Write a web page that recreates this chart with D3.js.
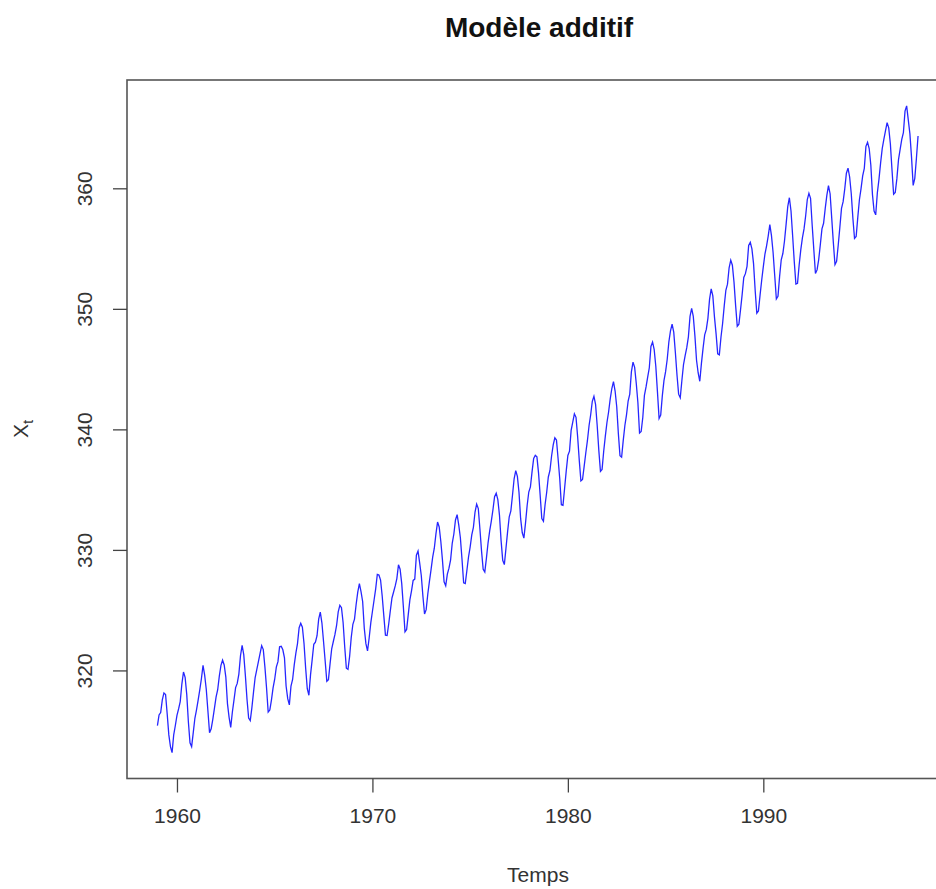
<!DOCTYPE html>
<html>
<head>
<meta charset="utf-8">
<script src="https://cdn.jsdelivr.net/npm/d3@7"></script>
<style>
  html, body { margin: 0; padding: 0; background: #fff; }
  svg { display: block; }
  text { font-family: "Liberation Sans", Arial, sans-serif; }
</style>
</head>
<body>
<svg id="chart" width="936" height="889"></svg>
<script>
// ---- data (monthly series, start 1959, 12 obs / year) ----
const title = "Modèle additif";
const xLabel = "Temps";
const startYear = 1959;
const frequency = 12;
const values = [
  315.42, 316.31, 316.50, 317.56, 318.13, 318.00, 316.39, 314.65, 313.68, 313.18, 314.66, 315.43,
  316.27, 316.81, 317.42, 318.87, 319.87, 319.43, 318.01, 315.74, 314.00, 313.68, 314.84, 316.03,
  316.73, 317.54, 318.38, 319.31, 320.42, 319.61, 318.42, 316.63, 314.83, 315.16, 315.94, 316.85,
  317.78, 318.40, 319.53, 320.42, 320.85, 320.45, 319.45, 317.25, 316.11, 315.27, 316.53, 317.53,
  318.58, 318.92, 319.70, 321.22, 322.08, 321.31, 319.58, 317.61, 316.05, 315.83, 316.91, 318.20,
  319.41, 320.07, 320.74, 321.40, 322.06, 321.73, 320.27, 318.54, 316.54, 316.71, 317.53, 318.55,
  319.27, 320.28, 320.73, 321.97, 322.00, 321.71, 321.05, 318.71, 317.66, 317.14, 318.70, 319.25,
  320.46, 321.43, 322.23, 323.54, 323.91, 323.59, 322.24, 320.20, 318.48, 317.94, 319.63, 320.87,
  322.17, 322.34, 322.88, 324.25, 324.83, 323.93, 322.38, 320.76, 319.10, 319.24, 320.56, 321.80,
  322.40, 322.99, 323.73, 324.86, 325.40, 325.20, 323.98, 321.95, 320.18, 320.09, 321.16, 322.74,
  323.83, 324.26, 325.47, 326.50, 327.21, 326.54, 325.72, 323.50, 322.22, 321.62, 322.69, 323.95,
  324.89, 325.82, 326.77, 327.97, 327.91, 327.50, 326.18, 324.53, 322.93, 322.90, 323.85, 324.96,
  326.01, 326.51, 327.01, 327.62, 328.76, 328.40, 327.20, 325.27, 323.20, 323.40, 324.63, 325.85,
  326.60, 327.47, 327.58, 329.56, 329.90, 328.92, 327.88, 326.16, 324.68, 325.04, 326.34, 327.39,
  328.37, 329.40, 330.14, 331.33, 332.31, 331.90, 330.70, 329.15, 327.35, 327.02, 327.99, 328.48,
  329.18, 330.55, 331.32, 332.48, 332.92, 332.08, 331.01, 329.23, 327.27, 327.21, 328.29, 329.41,
  330.23, 331.25, 331.87, 333.14, 333.80, 333.43, 331.73, 329.90, 328.40, 328.17, 329.32, 330.59,
  331.58, 332.39, 333.33, 334.41, 334.71, 334.17, 332.89, 330.77, 329.14, 328.78, 330.14, 331.52,
  332.75, 333.24, 334.53, 335.90, 336.57, 336.10, 334.76, 332.59, 331.42, 330.98, 332.24, 333.68,
  334.80, 335.22, 336.47, 337.59, 337.84, 337.72, 336.37, 334.51, 332.60, 332.38, 333.75, 334.78,
  336.05, 336.59, 337.79, 338.71, 339.30, 339.12, 337.56, 335.92, 333.75, 333.70, 335.12, 336.56,
  337.84, 338.19, 339.91, 340.60, 341.29, 341.00, 339.39, 337.43, 335.72, 335.84, 336.93, 338.04,
  339.06, 340.30, 341.21, 342.33, 342.74, 342.08, 340.32, 338.26, 336.52, 336.68, 338.19, 339.44,
  340.57, 341.44, 342.53, 343.39, 343.96, 343.18, 341.88, 339.65, 337.81, 337.69, 339.09, 340.32,
  341.20, 342.35, 342.93, 344.77, 345.58, 345.14, 343.81, 342.21, 339.69, 339.82, 340.98, 342.82,
  343.52, 344.33, 345.11, 346.88, 347.25, 346.62, 345.22, 343.11, 340.90, 341.18, 342.80, 344.04,
  344.79, 345.82, 347.25, 348.17, 348.74, 348.07, 346.38, 344.51, 342.92, 342.62, 344.06, 345.38,
  346.11, 346.78, 347.68, 349.37, 350.03, 349.37, 347.76, 345.73, 344.68, 343.99, 345.48, 346.72,
  347.84, 348.29, 349.23, 350.80, 351.66, 351.07, 349.33, 347.92, 346.27, 346.18, 347.64, 348.78,
  350.25, 351.54, 352.05, 353.41, 354.04, 353.62, 352.22, 350.27, 348.55, 348.72, 349.91, 351.18,
  352.60, 352.92, 353.53, 355.26, 355.52, 354.97, 353.75, 351.52, 349.64, 349.83, 351.14, 352.37,
  353.50, 354.55, 355.23, 356.04, 357.00, 356.07, 354.67, 352.76, 350.82, 351.04, 352.69, 354.07,
  354.59, 355.63, 357.03, 358.48, 359.22, 358.12, 356.06, 353.92, 352.05, 352.11, 353.64, 354.89,
  355.88, 356.63, 357.72, 359.07, 359.58, 359.17, 356.94, 354.92, 352.94, 353.23, 354.09, 355.33,
  356.63, 357.10, 358.32, 359.41, 360.23, 359.55, 357.53, 355.48, 353.67, 353.95, 355.30, 356.78,
  358.34, 358.89, 359.95, 361.25, 361.67, 360.94, 359.55, 357.49, 355.84, 356.00, 357.59, 359.05,
  359.98, 361.03, 361.66, 363.48, 363.82, 363.30, 361.94, 359.50, 358.11, 357.80, 359.61, 360.74,
  362.09, 363.29, 364.06, 364.76, 365.45, 365.01, 363.70, 361.54, 359.51, 359.65, 360.80, 362.38,
  363.23, 364.06, 364.61, 366.40, 366.84, 365.68, 364.52, 362.57, 360.24, 360.83, 362.49, 364.34
];
const xTicks = [1960, 1970, 1980, 1990];
const yTicks = [320, 330, 340, 350, 360];

(function () {
  // ---- layout ----
  const svg = d3.select("#chart");
  const pLeft = 127, pTop = 80, pBottom = 778.5;
  const times = values.map((v, i) => startYear + i / frequency);
  const series = values.map((v, i) => ({ t: times[i], v }));

  // R-style 4% axis expansion
  const tExt = d3.extent(times), vExt = d3.extent(values);
  const tPad = (tExt[1] - tExt[0]) * 0.04, vPad = (vExt[1] - vExt[0]) * 0.04;
  const pxPerYear = 19.545;
  const xDomain = [tExt[0] - tPad, tExt[1] + tPad];
  const pRight = pLeft + (xDomain[1] - xDomain[0]) * pxPerYear;

  const x = d3.scaleLinear().domain(xDomain).range([pLeft, pRight]);
  const y = d3.scaleLinear().domain([vExt[0] - vPad, vExt[1] + vPad]).range([pBottom, pTop]);

  // title
  svg.append("text")
    .attr("x", 539).attr("y", 37)
    .attr("text-anchor", "middle")
    .attr("font-size", 28).attr("font-weight", "bold").attr("fill", "#111")
    .text(title);

  // series line
  svg.append("path")
    .datum(series)
    .attr("fill", "none")
    .attr("stroke", "#0000ff")
    .attr("stroke-opacity", 0.85)
    .attr("stroke-width", 1.3)
    .attr("d", d3.line().x(d => x(d.t)).y(d => y(d.v)));

  // box
  svg.append("rect")
    .attr("x", pLeft).attr("y", pTop)
    .attr("width", pRight - pLeft).attr("height", pBottom - pTop)
    .attr("fill", "none").attr("stroke", "#555").attr("stroke-width", 1.6);

  // x axis
  const xAxis = d3.axisBottom(x).tickValues(xTicks).tickSize(14).tickPadding(16).tickFormat(d3.format("d"));
  const gx = svg.append("g").attr("transform", `translate(0,${pBottom})`).call(xAxis);
  gx.select(".domain").remove();
  gx.selectAll(".tick line").attr("stroke", "#444").attr("stroke-width", 1.3);
  gx.selectAll("text").attr("font-size", 21).attr("fill", "#333")
    .attr("font-family", "'Liberation Sans', Arial, sans-serif");

  // y axis
  const yAxis = d3.axisLeft(y).tickValues(yTicks).tickSize(14).tickFormat(d3.format("d"));
  const gy = svg.append("g").attr("transform", `translate(${pLeft},0)`).call(yAxis);
  gy.select(".domain").remove();
  gy.selectAll(".tick line").attr("stroke", "#444").attr("stroke-width", 1.3);
  gy.selectAll("text")
    .attr("font-size", 21).attr("fill", "#333")
    .attr("font-family", "'Liberation Sans', Arial, sans-serif")
    .attr("text-anchor", "middle")
    .attr("x", 0).attr("y", 0).attr("dy", null)
    .attr("dominant-baseline", "central")
    .attr("transform", "translate(-43,0) rotate(-90)");

  // x label
  svg.append("text")
    .attr("x", 538).attr("y", 882)
    .attr("text-anchor", "middle")
    .attr("font-size", 21).attr("fill", "#333")
    .text(xLabel);

  // y label: X with subscript t
  const yl = svg.append("text")
    .attr("transform", "translate(28,429) rotate(-90)")
    .attr("text-anchor", "middle")
    .attr("font-size", 21).attr("fill", "#333");
  yl.append("tspan").text("X");
  yl.append("tspan").attr("font-size", 15).attr("dy", 5).text("t");
})();
</script>
</body>
</html>
